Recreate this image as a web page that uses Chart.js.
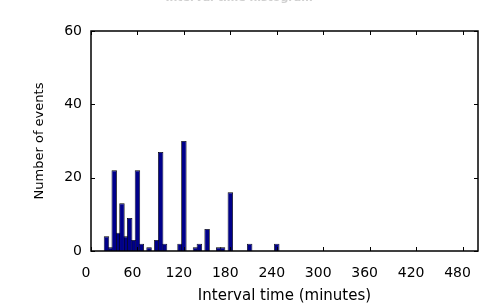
<!DOCTYPE html>
<html>
<head>
<meta charset="utf-8">
<script src="https://cdn.jsdelivr.net/npm/chart.js@4/dist/chart.umd.min.js"></script>
<style>
  html, body { margin: 0; padding: 0; background: #fff; }
  #wrap { width: 486px; height: 307px; position: relative; }
</style>
</head>
<body>
<div id="wrap"><canvas id="c" width="486" height="307"></canvas></div>
<script>
// Histogram bins (bin centre, minutes) and counts
const binCenters = [20, 25, 30, 35, 40, 45, 50, 55, 60, 65, 75, 85, 90, 95, 115, 120, 135, 140, 150, 165, 170, 180, 205, 240];
const counts     = [ 4,  1, 22,  5, 13,  4,  9,  3, 22,  2,  1,  3, 27,  2,   2,  30,   1,   2,   6,   1,   1,  16,   2,   2];
const xTicks = [0, 60, 120, 180, 240, 300, 360, 420, 480];
const yTicks = [0, 20, 40, 60];
const titleText = 'Interval time histogram';
const xTitle = 'Interval time (minutes)';
const yTitle = 'Number of events';

const FONT = 'DejaVu Sans';

// draw lower bars first so the tall bars stay on top where neighbours overlap
const points = binCenters.map((b, i) => ({x: b, y: counts[i]}))
  .sort((p, q) => p.y - q.y);

const boxTicks = {
  id: 'boxTicks',
  afterDatasetsDraw(chart) {
    const {ctx, chartArea: a, scales: {x, y}} = chart;
    ctx.save();
    ctx.strokeStyle = '#000';
    ctx.lineWidth = 1;
    const L = 4;
    ctx.beginPath();
    x.ticks.forEach(t => {
      const px = Math.round(x.getPixelForValue(t.value)) + 0.5;
      ctx.moveTo(px, a.bottom); ctx.lineTo(px, a.bottom - L);
      ctx.moveTo(px, a.top); ctx.lineTo(px, a.top + L);
    });
    y.ticks.forEach(t => {
      const py = Math.round(y.getPixelForValue(t.value)) + 0.5;
      ctx.moveTo(a.left, py); ctx.lineTo(a.left + L, py);
      ctx.moveTo(a.right, py); ctx.lineTo(a.right - L, py);
    });
    ctx.stroke();
    ctx.lineWidth = 1.5;
    ctx.strokeRect(a.left, a.top, a.right - a.left, a.bottom - a.top);
    ctx.restore();
  }
};

new Chart(document.getElementById('c'), {
  type: 'bar',
  data: {
    datasets: [{
      data: points,
      backgroundColor: '#00008a',
      borderColor: '#000000',
      borderWidth: 0.8,
      barPercentage: 1.4,
      categoryPercentage: 1
    }]
  },
  options: {
    responsive: false,
    animation: false,
    events: [],
    layout: { padding: { left: 0, right: 8, top: 0, bottom: 0 } },
    plugins: {
      legend: { display: false },
      tooltip: { enabled: false },
      title: {
        display: true,
        text: titleText,
        color: '#d0d0d0',
        font: { family: FONT, size: 11 },
        padding: { top: -8, bottom: 25.8 }
      }
    },
    scales: {
      x: {
        type: 'linear',
        min: 0,
        max: 500,
        offset: false,
        grid: { display: false, drawTicks: false, offset: false },
        border: { display: false },
        afterBuildTicks: (s) => { s.ticks = xTicks.map(v => ({value: v})); },
        afterFit: (s) => { s.height = 56; s.paddingLeft = 0; s.paddingRight = 0; },
        ticks: {
          color: '#000',
          font: { family: FONT, size: 14 },
          padding: 14,
          labelOffset: -5,
          maxRotation: 0,
          autoSkip: false
        },
        title: {
          display: true,
          text: xTitle,
          color: '#000',
          font: { family: FONT, size: 15 },
          padding: { top: 0, bottom: 2 }
        }
      },
      y: {
        min: 0,
        max: 60,
        grid: { display: false, drawTicks: false },
        border: { display: false },
        afterBuildTicks: (s) => { s.ticks = yTicks.map(v => ({value: v})); },
        afterFit: (s) => { s.width = 91; s.paddingTop = 0; s.paddingBottom = 0; },
        ticks: {
          color: '#000',
          font: { family: FONT, size: 14 },
          padding: 9
        },
        title: {
          display: true,
          text: yTitle,
          color: '#000',
          font: { family: FONT, size: 13 },
          padding: { top: 32, bottom: 0 }
        }
      }
    }
  },
  plugins: [boxTicks]
});
</script>
</body>
</html>
